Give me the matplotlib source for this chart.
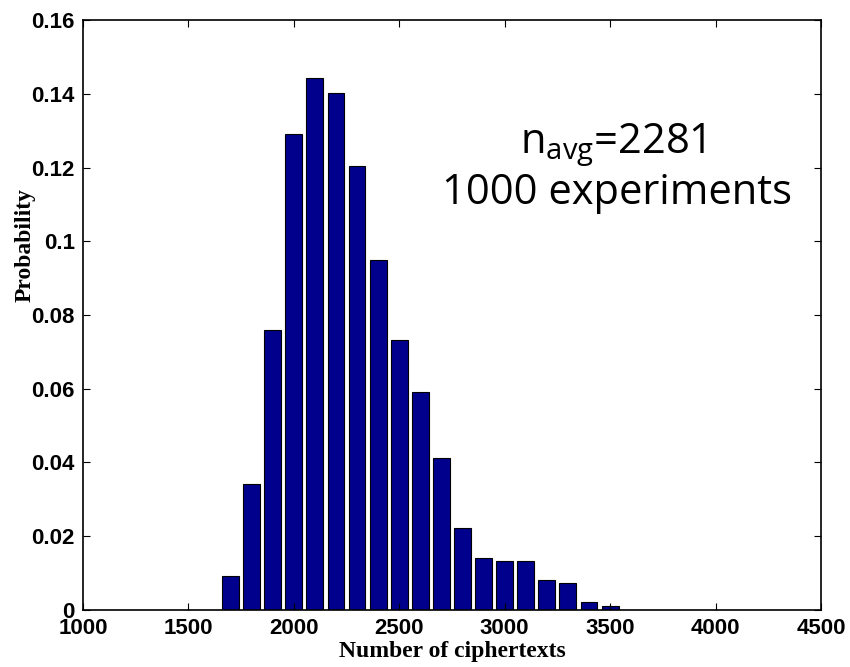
"""
Distribution of the number of ciphertexts needed, over 1000 experiments.
"""
import matplotlib
matplotlib.use("Agg")
from matplotlib import pyplot as plt

# bin centres and probabilities
bins = [1700, 1800, 1900, 2000, 2100, 2200, 2300, 2400, 2500, 2600,
        2700, 2800, 2900, 3000, 3100, 3200, 3300, 3400, 3500]
probs = [0.0093, 0.0341, 0.0760, 0.1292, 0.1443, 0.1402, 0.1203, 0.0950,
         0.0732, 0.0590, 0.0411, 0.0222, 0.0141, 0.0133, 0.0133, 0.0080,
         0.0072, 0.0021, 0.0012]
xticks = [1000, 1500, 2000, 2500, 3000, 3500, 4000, 4500]
yticks = [0, 0.02, 0.04, 0.06, 0.08, 0.1, 0.12, 0.14, 0.16]
yticklabels = ["0", "0.02", "0.04", "0.06", "0.08", "0.1", "0.12", "0.14", "0.16"]


def main():
    plt.rcParams["mathtext.fontset"] = "custom"
    plt.rcParams["mathtext.rm"] = "Open Sans"

    fig = plt.figure(figsize=(8.5, 6.67), dpi=100)
    ax = fig.add_axes([0.0976, 0.0855, 0.8682, 0.8845])

    ax.bar(bins, probs, width=80, color="#00008C", edgecolor="black", linewidth=0.8)

    ax.set_xlim(1000, 4500)
    ax.set_ylim(0, 0.16)
    ax.set_xticks(xticks)
    ax.set_yticks(yticks)
    ax.set_yticklabels(yticklabels)
    ax.tick_params(direction="in", top=True, right=True, length=5, width=0.8)
    ax.tick_params(axis="x", pad=6)
    ax.tick_params(axis="y", pad=6)
    for lab in ax.get_xticklabels() + ax.get_yticklabels():
        lab.set_fontfamily("Liberation Sans")
        lab.set_fontweight("bold")
        lab.set_fontsize(16)
    for sp in ax.spines.values():
        sp.set_linewidth(1.2)

    fig.text(452 / 850, 1 - 651 / 667, "Number of ciphertexts",
             fontfamily="Liberation Serif", fontweight="bold", fontsize=17,
             ha="center", va="center")
    fig.text(25 / 850, 1 - 245 / 667, "Probability", rotation=90,
             fontfamily="Liberation Serif", fontweight="bold", fontsize=17,
             ha="center", va="center")

    ax.text(3514, 0.1240, r"n$_{\mathrm{avg}}$=2281", fontfamily="Open Sans",
            fontsize=30, ha="center", va="baseline")
    ax.text(3533, 0.1100, "1000 experiments", fontfamily="Open Sans",
            fontsize=30, ha="center", va="baseline")

    fig.savefig("out.png", dpi=100)


if __name__ == "__main__":
    main()
